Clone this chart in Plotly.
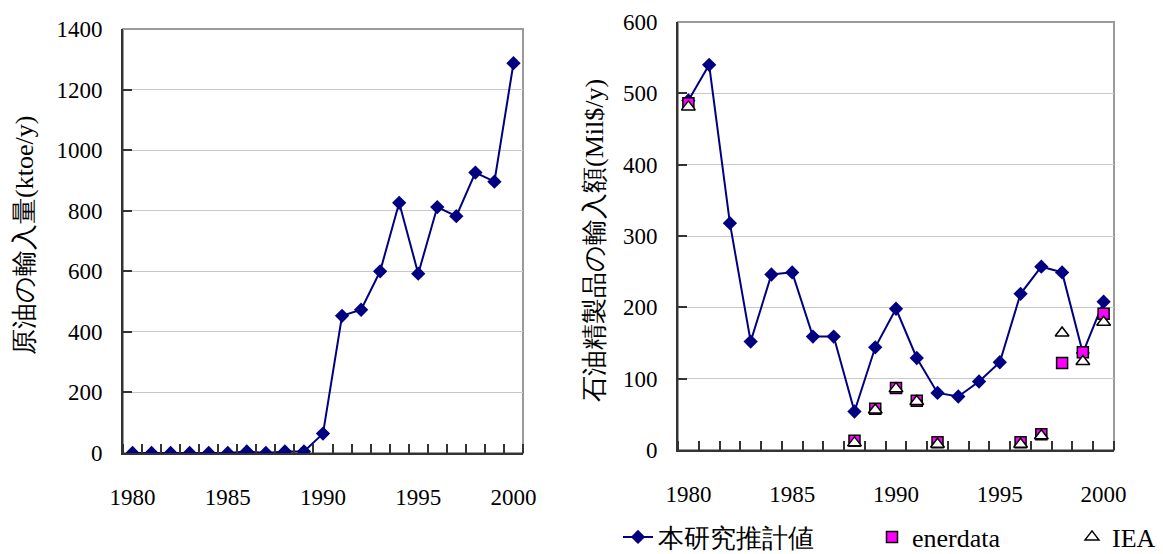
import plotly.graph_objects as go
from plotly.subplots import make_subplots

years = list(range(1980, 2001))
crude_import = [0, 0, 0, 0, 0, 0, 5, 0, 5, 5, 64, 453, 473, 600, 826, 592, 812, 782, 926, 896, 1287]
product_import = [490, 540, 318, 152, 246, 249, 159, 159, 54, 144, 198, 129, 80, 75, 96, 123, 219, 257, 249, 136, 208]

enerdata_years = [1980, 1988, 1989, 1990, 1991, 1992, 1996, 1997, 1998, 1999, 2000]
enerdata_vals = [486, 13, 58, 87, 69, 11, 11, 22, 122, 137, 191]
iea_years = [1980, 1988, 1989, 1990, 1991, 1992, 1996, 1997, 1998, 1999, 2000]
iea_vals = [481, 10, 56, 86, 68, 8, 8, 20, 164, 124, 179]

xtick_vals = [1980, 1985, 1990, 1995, 2000]
left_ytitle = "原油の輸入量(ktoe/y)"
right_ytitle = "石油精製品の輸入額(Mil$/y)"
names = ["本研究推計値", "enerdata", "IEA"]

FONT = "Liberation Serif, Times New Roman, Times, serif"
NAVY = "#000080"

fig = make_subplots(rows=1, cols=2)

fig.add_trace(go.Scatter(x=years, y=crude_import, mode="lines+markers",
                         line=dict(color=NAVY, width=2),
                         marker=dict(symbol="diamond", size=11, color=NAVY),
                         showlegend=False, name=names[0]), row=1, col=1)

fig.add_trace(go.Scatter(x=years, y=product_import, mode="lines+markers",
                         line=dict(color=NAVY, width=2),
                         marker=dict(symbol="diamond", size=11, color=NAVY),
                         name=names[0], legendwidth=209), row=1, col=2)
fig.add_trace(go.Scatter(x=enerdata_years, y=enerdata_vals, mode="markers",
                         marker=dict(symbol="square", size=11, color="#FF00FF",
                                     line=dict(color="black", width=1.5)),
                         name=names[1], legendwidth=155), row=1, col=2)
fig.add_trace(go.Scatter(x=iea_years, y=iea_vals, mode="markers",
                         marker=dict(symbol="triangle-up", size=12, color="white",
                                     line=dict(color="black", width=1.5)),
                         name=names[2], legendwidth=50), row=1, col=2)

W, H = 1163, 554
ml, mr, mt, mb = 123, 49, 22, 101
pw = W - ml - mr
ph = H - mt - mb

def xd(a, b):
    return [(a - ml) / pw, (b - ml) / pw]

def yd(top, bottom):
    return [(H - mb - bottom) / ph, (H - mb - top) / ph]

xcommon = dict(range=[1979.5, 2000.5], tickmode="array", tickvals=xtick_vals,
               ticks="", showline=True, linecolor="#333333", linewidth=2,
               showgrid=False, zeroline=False, ticklabelstandoff=22, automargin=False,
               tickfont=dict(family=FONT, size=23, color="black"),
               minor=dict(tickmode="linear", tick0=1979.5, dtick=1, ticks="inside",
                          ticklen=9, tickcolor="#333333", tickwidth=1.5, showgrid=False))
ycommon = dict(ticks="inside", ticklen=9, tickcolor="#333333", tickwidth=1.5,
               showline=True, linecolor="#333333", linewidth=2,
               showgrid=True, gridcolor="#c8c8c8", gridwidth=1, zeroline=False,
               ticklabelstandoff=14, automargin=False,
               tickfont=dict(family=FONT, size=23, color="black"))

fig.update_xaxes(**xcommon, domain=xd(123, 523), row=1, col=1)
fig.update_xaxes(**xcommon, domain=xd(678, 1114), row=1, col=2)
fig.update_yaxes(**ycommon, range=[0, 1400], dtick=200, domain=yd(29, 453), row=1, col=1)
fig.update_yaxes(**ycommon, range=[0, 600], dtick=100, domain=yd(22, 450), row=1, col=2)

# gray frame (top/right borders)
for xr, yr in [("x domain", "y domain"), ("x2 domain", "y2 domain")]:
    fig.add_shape(type="rect", xref=xr, yref=yr, x0=0, x1=1, y0=0, y1=1,
                  line=dict(color="#9a9a9a", width=2), layer="below")

fig.add_annotation(text=left_ytitle, textangle=-90, xref="paper", yref="paper",
                   x=(25 - ml) / pw, y=(H - mb - 236) / ph, showarrow=False,
                   xanchor="center", yanchor="middle",
                   font=dict(family=FONT, size=26, color="black"))
fig.add_annotation(text=right_ytitle, textangle=-90, xref="paper", yref="paper",
                   x=(595 - ml) / pw, y=(H - mb - 241) / ph, showarrow=False,
                   xanchor="center", yanchor="middle",
                   font=dict(family=FONT, size=26, color="black"))

fig.update_layout(
    template="none",
    width=W, height=H,
    font=dict(family=FONT, color="black"),
    margin=dict(l=ml, r=mr, t=mt, b=mb, autoexpand=False),
    paper_bgcolor="white", plot_bgcolor="white",
    showlegend=True,
    legend=dict(orientation="h", xref="container", yref="container",
                x=618 / W, y=(H - 537) / H, xanchor="left", yanchor="middle",
                font=dict(family=FONT, size=26, color="black"),
                bgcolor="rgba(0,0,0,0)", itemsizing="trace"),
)

fig.write_html("out.html", config={"displayModeBar": False},
               post_script="document.body.style.margin='0';document.body.style.padding='0';document.body.style.overflow='hidden';")
